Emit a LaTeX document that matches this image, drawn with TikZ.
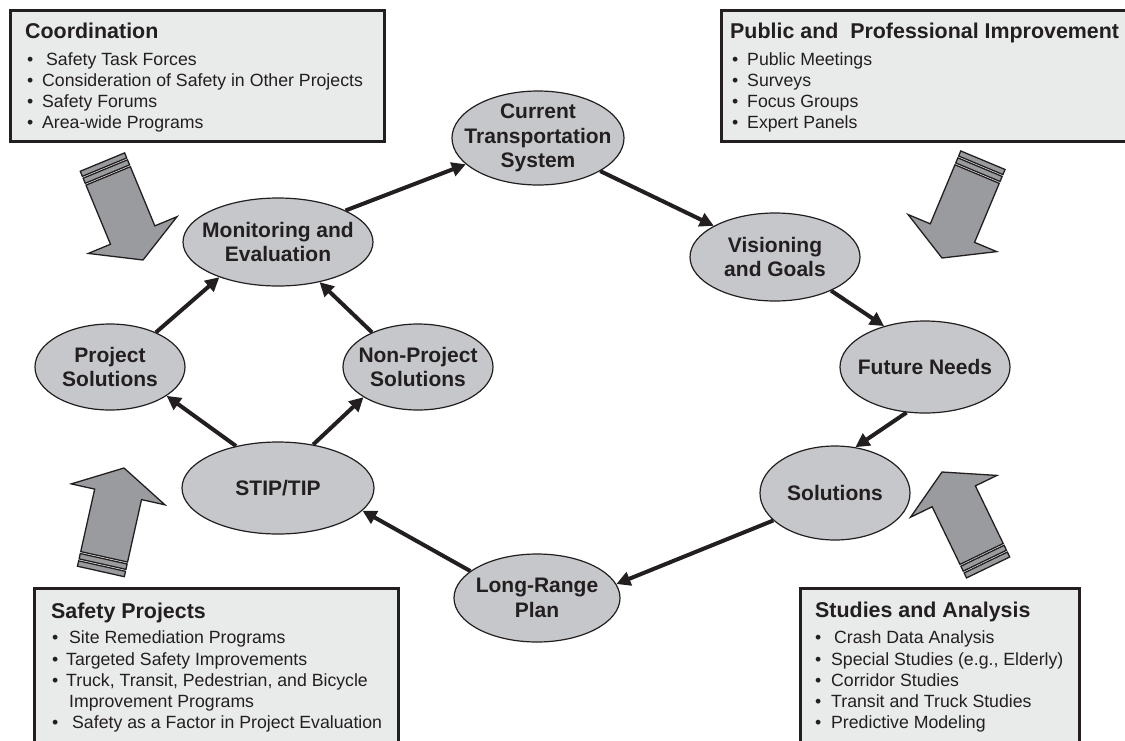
\documentclass[tikz,border=0pt]{standalone}
\usepackage{fontspec}
\setmainfont{Liberation Sans}
\usetikzlibrary{shapes.geometric,arrows.meta}
\definecolor{ink}{HTML}{231F20}
\definecolor{elfill}{HTML}{C6C7CA}
\definecolor{boxfill}{HTML}{E9EAEA}
\definecolor{arrfill}{HTML}{9A9B9F}
\begin{document}
\begin{tikzpicture}[x=1pt,y=-1pt,
  el/.style={ellipse,draw=ink,line width=1.2pt,fill=elfill,inner sep=0pt},
  eltext/.style={align=center,font=\fontsize{21}{24.5}\selectfont\bfseries,text=ink,inner sep=0pt},
  panel/.style={draw=ink,line width=3pt,fill=boxfill,inner sep=0pt,anchor=north west},
  ptitle/.style={anchor=base west,font=\fontsize{21.4}{24}\selectfont\bfseries,text=ink,inner sep=0pt},
  pitem/.style={anchor=base west,font=\fontsize{17.7}{21}\selectfont,text=ink,inner sep=0pt},
  conn/.style={draw=ink,line width=4pt,-{Triangle[length=14pt,width=14pt]}},
  bigarr/.style={draw=ink,line width=1.3pt,fill=arrfill,line join=miter},
  pics/fatarrow/.style={code={
    \draw[bigarr] (0,0) -- (-27,48) -- (-27,24) -- (-91,24) -- (-91,-24) -- (-27,-24) -- (-27,-48) -- cycle;
    \draw[bigarr] (-93,24) rectangle (-98.5,-24);
    \draw[bigarr] (-100.5,24) rectangle (-106,-24);
  }}]
\useasboundingbox (0,0) rectangle (1125,740);
\clip (0,0) rectangle (1125,740);
\fill[white] (0,0) rectangle (1125,740);

% panels
\node[panel,minimum width=374pt,minimum height=131pt] (coordbox) at (9,9) {};
\node[ptitle] (coordt) at (25,38) {Coordination};
\node[pitem] (c1) at (27,65) {\makebox[19pt][l]{•}Safety Task Forces};
\node[pitem] (c2) at (27,86) {\makebox[15pt][l]{•}Consideration of Safety in Other Projects};
\node[pitem] (c3) at (27,107) {\makebox[15pt][l]{•}Safety Forums};
\node[pitem] (c4) at (27,128) {\makebox[15pt][l]{•}Area-wide Programs};

\node[panel,minimum width=420pt,minimum height=131pt] (pubbox) at (720,9) {};
\node[ptitle] (pubt) at (730,38) {Public and\ \ Professional Improvement};
\node[pitem] (p1) at (732,65) {\makebox[15pt][l]{•}Public Meetings};
\node[pitem] (p2) at (732,86) {\makebox[15pt][l]{•}Surveys};
\node[pitem] (p3) at (732,107) {\makebox[15pt][l]{•}Focus Groups};
\node[pitem] (p4) at (732,128) {\makebox[15pt][l]{•}Expert Panels};

\node[panel,minimum width=364pt,minimum height=180pt] (safebox) at (33,587) {};
\node[ptitle] (safet) at (51,618) {Safety Projects};
\node[pitem] (s1) at (52,643) {\makebox[17pt][l]{•}Site Remediation Programs};
\node[pitem] (s2) at (52,665) {\makebox[14pt][l]{•}Targeted Safety Improvements};
\node[pitem] (s3) at (52,686) {\makebox[14pt][l]{•}Truck, Transit, Pedestrian, and Bicycle};
\node[pitem] (s3b) at (69,707) {Improvement Programs};
\node[pitem] (s4) at (52,728) {\makebox[20pt][l]{•}Safety as a Factor in Project Evaluation};

\node[panel,minimum width=279pt,minimum height=180pt] (studbox) at (799,587) {};
\node[ptitle] (studt) at (815,617) {Studies and Analysis};
\node[pitem] (a1) at (815,643) {\makebox[19pt][l]{•}Crash Data Analysis};
\node[pitem] (a2) at (815,665) {\makebox[16pt][l]{•}Special Studies (e.g., Elderly)};
\node[pitem] (a3) at (815,686) {\makebox[16pt][l]{•}Corridor Studies};
\node[pitem] (a4) at (815,707) {\makebox[16pt][l]{•}Transit and Truck Studies};
\node[pitem] (a5) at (815,728) {\makebox[16pt][l]{•}Predictive Modeling};

% big arrows
\pic[rotate=-67.5] (ulA) at (143,260) {fatarrow};
\pic[rotate=-112.7] (urA) at (942,258) {fatarrow};
\pic[rotate=77.4] (llA) at (124,468) {fatarrow};
\pic[rotate=115.8] (lrA) at (942,472) {fatarrow};

% ellipses
\node[el,minimum width=172pt,minimum height=94pt] (cur) at (538,138) {};
\node[eltext] (curt) at (cur) {Current\\Transportation\\System};
\node[el,minimum width=170pt,minimum height=88pt] (vis) at (775,257) {};
\node[eltext] (vist) at (vis) {Visioning\\and Goals};
\node[el,minimum width=170pt,minimum height=92pt] (fut) at (925,367) {};
\node[eltext] (futt) at (fut) {Future Needs};
\node[el,minimum width=150pt,minimum height=94pt] (sol) at (835,493) {};
\node[eltext] (solt) at (sol) {Solutions};
\node[el,minimum width=166pt,minimum height=88pt] (lrp) at (537,598) {};
\node[eltext] (lrpt) at (lrp) {Long-Range\\Plan};
\node[el,minimum width=192pt,minimum height=92pt] (stip) at (278,488) {};
\node[eltext] (stipt) at (stip) {STIP/TIP};
\node[el,minimum width=150pt,minimum height=86pt] (proj) at (110,367) {};
\node[eltext] (projt) at (proj) {Project\\Solutions};
\node[el,minimum width=150pt,minimum height=86pt] (nproj) at (418,367) {};
\node[eltext] (nprojt) at (nproj) {Non-Project\\Solutions};
\node[el,minimum width=190pt,minimum height=88pt] (mon) at (278,242) {};
\node[eltext] (mont) at (mon) {Monitoring and\\Evaluation};

% connectors
\draw[conn] (mon.25) -- (cur.-160);
\draw[conn] (cur.-28.6) -- (vis.153);
\draw[conn] (vis.-31) -- (fut.135);
\draw[conn] (fut.-112) -- (sol.66.5);
\draw[conn] (sol.-156) -- (lrp.10.8);
\draw[conn] (lrp.158.7) -- (stip.-15.8);
\draw[conn] (stip.135) -- (proj.-27);
\draw[conn] (stip.51.7) -- (nproj.-151);
\draw[conn] (proj.37) -- (mon.-149);
\draw[conn] (nproj.143) -- (mon.-44);
\end{tikzpicture}
\end{document}
